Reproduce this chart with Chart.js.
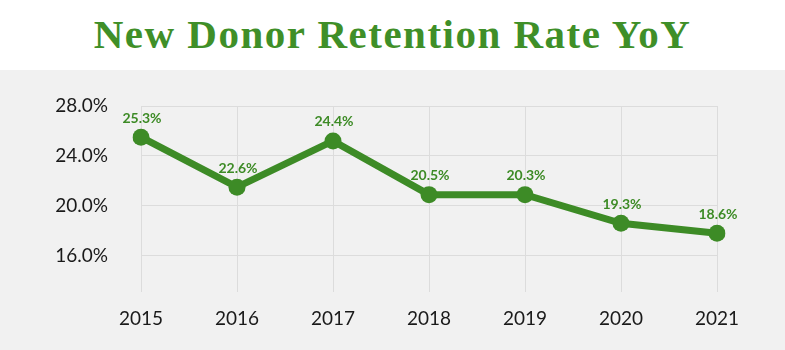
<!DOCTYPE html>
<html>
<head>
<meta charset="utf-8">
<script src="https://cdn.jsdelivr.net/npm/chart.js@4"></script>
<style>
  html, body { margin: 0; padding: 0; background: #ffffff; }
  #title {
    height: 70px; width: 785px;
    font-family: "Liberation Serif", serif;
    font-weight: bold; font-size: 41px; color: #3f8f28;
    text-align: center; line-height: 68px; letter-spacing: 1.5px;
  }
  #wrap { width: 785px; height: 280px; background: #f1f1f1; }
  canvas { display: block; }
</style>
</head>
<body>
<div id="title">New Donor Retention Rate YoY</div>
<div id="wrap"><canvas id="Chart1" width="785" height="280"></canvas></div>
<script>
// years on the x axis
const years = ['2015', '2016', '2017', '2018', '2019', '2020', '2021'];
// where the points sit in the picture
const rates = [25.5, 21.5, 25.2, 20.9, 20.9, 18.6, 17.8];
// printed value labels
const rateLabels = ['25.3%', '22.6%', '24.4%', '20.5%', '20.3%', '19.3%', '18.6%'];
// y axis ticks
const yTicks = [16, 20, 24, 28];

const green = '#3d8b26';

// value labels above each point
const pointLabels = {
    id: 'pointLabels',
    afterDatasetsDraw(chart) {
        const ctx = chart.ctx;
        const meta = chart.getDatasetMeta(0);
        ctx.save();
        ctx.font = 'bold 14px Lato';
        ctx.fillStyle = green;
        ctx.textAlign = 'center';
        ctx.textBaseline = 'middle';
        meta.data.forEach((pt, i) => {
            ctx.fillText(rateLabels[i], pt.x + 1, pt.y - 19);
        });
        ctx.restore();
    }
};

const ctx1 = document.getElementById('Chart1');
const myChart1 = new Chart(ctx1, {
    type: 'line',
    data: {
        labels: years,
        datasets: [{
            data: rates,
            borderColor: green,
            backgroundColor: green,
            borderWidth: 7,
            pointRadius: 8.5,
            pointBorderWidth: 0,
            tension: 0
        }]
    },
    options: {
        responsive: false,
        animation: false,
        devicePixelRatio: 1,
        layout: { padding: { top: 36, right: 68, left: 0, bottom: 0 } },
        scales: {
            x: {
                offset: false,
                grid: { color: '#dcdcdc', drawTicks: false },
                border: { display: false },
                ticks: {
                    color: '#1a1a1a',
                    padding: 15,
                    maxRotation: 0,
                    font: { family: 'Lato', size: 19 }
                },
                afterFit(scale) { scale.height = 58; }
            },
            y: {
                min: 13.1,
                max: 28,
                grid: { color: '#dcdcdc', drawTicks: false },
                border: { display: false },
                afterBuildTicks(scale) {
                    scale.ticks = yTicks.map(v => ({ value: v }));
                },
                ticks: {
                    color: '#1a1a1a',
                    padding: 33,
                    font: { family: 'Lato', size: 19 },
                    callback: v => v.toFixed(1) + '%'
                },
                afterFit(scale) {
                    scale.width = 141;
                    scale.paddingTop = 0;
                    scale.paddingBottom = 0;
                }
            }
        },
        plugins: {
            legend: { display: false },
            tooltip: { enabled: false }
        }
    },
    plugins: [pointLabels]
});
</script>
</body>
</html>
